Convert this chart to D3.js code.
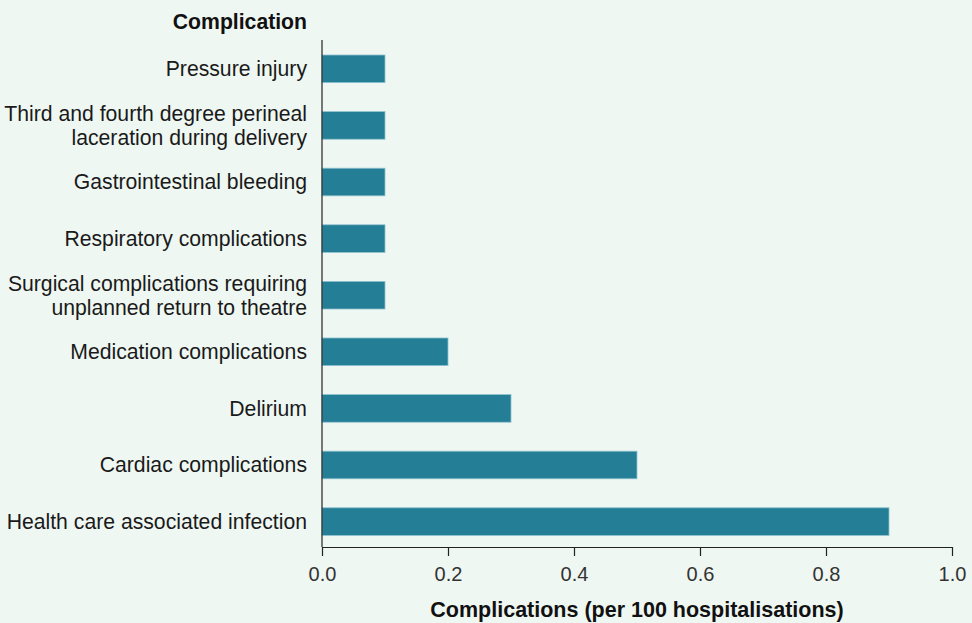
<!DOCTYPE html>
<html>
<head>
<meta charset="utf-8">
<script src="https://cdn.jsdelivr.net/npm/d3@7"></script>
<style>
  html, body { margin: 0; padding: 0; background: #eff7f2; }
  svg { display: block; font-family: "Liberation Sans", Arial, sans-serif; }
</style>
</head>
<body>
<svg id="chart" width="972" height="623"></svg>
<script>
// Complication categories (top to bottom); "\n" marks a line break in the label
const categories = [
  "Pressure injury",
  "Third and fourth degree perineal\nlaceration during delivery",
  "Gastrointestinal bleeding",
  "Respiratory complications",
  "Surgical complications requiring\nunplanned return to theatre",
  "Medication complications",
  "Delirium",
  "Cardiac complications",
  "Health care associated infection"
];
// Complications per 100 hospitalisations
const values = [0.1, 0.1, 0.1, 0.1, 0.1, 0.2, 0.3, 0.5, 0.9];
const xTicks = [0, 0.2, 0.4, 0.6, 0.8, 1.0];
const yTitle = "Complication";
const xTitle = "Complications (per 100 hospitalisations)";

const svg = d3.select("#chart");
const barColor = "#237e96";
const axisColor = "#222";

const x = d3.scaleLinear().domain([0, 1]).range([322, 952]);
const y = d3.scaleBand().domain(categories).range([55, 535.4]).paddingInner(0.512).paddingOuter(0);

const axisTop = 40, axisBottom = 547;

// bars
svg.append("g").selectAll("rect")
  .data(categories)
  .join("rect")
  .attr("x", x(0))
  .attr("y", d => y(d))
  .attr("width", (d, i) => x(values[i]) - x(0))
  .attr("height", y.bandwidth())
  .attr("fill", barColor)
  .attr("stroke", "#8fc2cf")
  .attr("stroke-width", 0.8);

// y axis line
svg.append("line")
  .attr("x1", x(0)).attr("x2", x(0))
  .attr("y1", axisTop).attr("y2", axisBottom)
  .attr("stroke", axisColor).attr("stroke-width", 1.2);

// x axis
const xAxis = d3.axisBottom(x)
  .tickValues(xTicks)
  .tickFormat(d3.format(".1f"))
  .tickSize(9)
  .tickSizeOuter(0)
  .tickPadding(11);
const gx = svg.append("g")
  .attr("transform", `translate(0,${axisBottom})`)
  .call(xAxis);
gx.select(".domain").attr("stroke", axisColor).attr("stroke-width", 1.2);
gx.selectAll(".tick line").attr("stroke", axisColor).attr("stroke-width", 1.2);
gx.selectAll(".tick text")
  .attr("fill", "#333")
  .style("font-size", "20px")
  .style("font-family", "\"Liberation Sans\", Arial, sans-serif");

// category labels
const labels = svg.append("g").selectAll("text")
  .data(categories)
  .join("text")
  .attr("x", x(0) - 15)
  .attr("text-anchor", "end")
  .attr("fill", "#1a1a1a")
  .style("font-size", "21.2px");
labels.each(function(d) {
  const lines = d.split("\n");
  const cy = y(d) + y.bandwidth() / 2;
  const lh = 24;
  const t = d3.select(this);
  lines.forEach((ln, k) => {
    t.append("tspan")
      .attr("x", x(0) - 15)
      .attr("y", cy + (k - (lines.length - 1) / 2) * lh)
      .attr("dy", "0.35em")
      .text(ln);
  });
});

// axis titles
svg.append("text")
  .attr("x", 307).attr("y", 22).attr("dy", "0.35em")
  .attr("text-anchor", "end")
  .attr("font-weight", "bold")
  .attr("fill", "#111")
  .style("font-size", "21.2px")
  .text(yTitle);

svg.append("text")
  .attr("x", (x(0) + x(1)) / 2).attr("y", 609).attr("dy", "0.35em")
  .attr("text-anchor", "middle")
  .attr("font-weight", "bold")
  .attr("fill", "#111")
  .style("font-size", "21.5px")
  .text(xTitle);
</script>
</body>
</html>
